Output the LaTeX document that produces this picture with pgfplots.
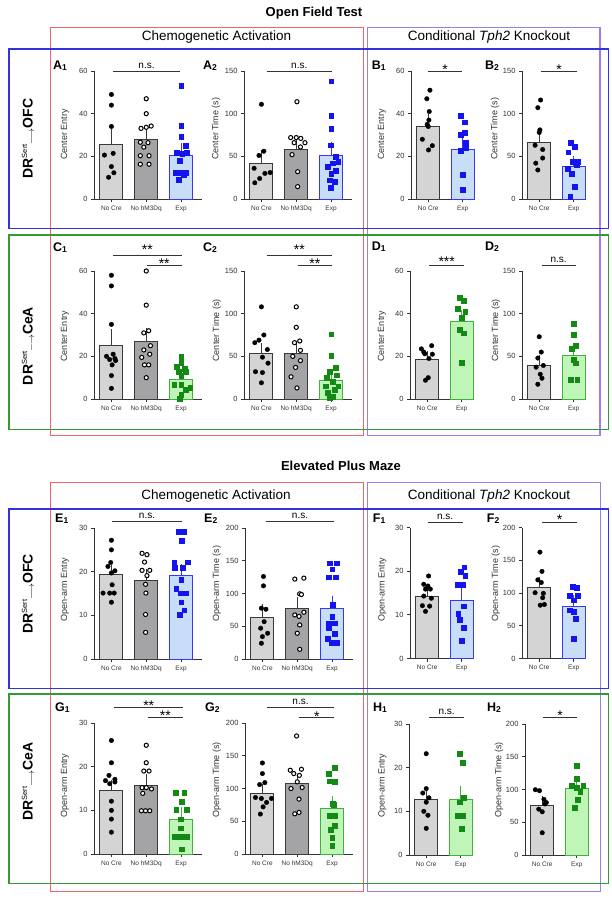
\documentclass[border=0pt]{standalone}
\usepackage{pgfplots}
\pgfplotsset{compat=1.18}
\usepackage{fontspec}
\setmainfont{Liberation Sans}
\definecolor{ncf}{HTML}{D4D4D4}
\definecolor{nhf}{HTML}{A4A4A6}
\definecolor{edg}{HTML}{3A3A3A}
\definecolor{bf}{HTML}{C8DDF7}
\definecolor{be}{HTML}{3838F0}
\definecolor{bp}{HTML}{1414F0}
\definecolor{gf}{HTML}{C0F5B8}
\definecolor{ge}{HTML}{40B040}
\definecolor{gp}{HTML}{138A13}
\definecolor{rbox}{HTML}{EE6666}
\definecolor{bbox}{HTML}{3333DD}
\definecolor{gbox}{HTML}{349A34}
\definecolor{pbox}{HTML}{A07CEE}
\definecolor{axk}{HTML}{333333}
\pgfplotsset{
 panel/.style={scale only axis, anchor=south west, axis lines*=left, ymin=0, clip=false,
   tick align=outside, major tick length=3pt,
   axis line style={line width=0.9pt, draw=axk}, tick style={line width=0.9pt, draw=axk},
   yticklabel style={font=\fontsize{7.5}{8}\selectfont, text=axk},
   xticklabel style={font=\fontsize{6.5}{7}\selectfont, text=axk},
   /pgf/number format/assume math mode=true, scaled y ticks=false},
 three/.style={panel, width=108pt, xmin=-0.5, xmax=2.6, xtick={0,1,2}, xticklabels={No Cre, No hM3Dq, Exp}},
 two/.style={panel, width=63pt, xmin=-0.5, xmax=1.33, xtick={0,1}, xticklabels={No Cre, Exp}},
 of/.style={height=128pt}, epm/.style={height=131pt},
 e60/.style={ymax=60, ytick={0,20,40,60}},
 e150/.style={ymax=150, ytick={0,50,100,150}},
 e30/.style={ymax=30, ytick={0,10,20,30}},
 e200/.style={ymax=200, ytick={0,50,100,150,200}},
 bb/.style 2 args={ybar, bar shift=0pt, bar width=23pt, line width=0.9pt, fill=#1, draw=#2,
   error bars/y dir=plus, error bars/y explicit,
   error bars/error bar style={line width=0.9pt, draw=#2, solid},
   error bars/error mark options={line width=0.9pt, draw=#2, mark size=4pt}},
 pk/.style={only marks, mark=*, mark size=2.3pt, mark options={fill=black, draw=black, line width=0.3pt}},
 pw/.style={only marks, mark=*, mark size=2.1pt, mark options={fill=white, draw=black, line width=1.0pt}},
 pb/.style={only marks, mark=square*, mark size=2.4pt, mark options={fill=bp, draw=bp, line width=0.3pt}},
 pg/.style={only marks, mark=square*, mark size=2.4pt, mark options={fill=gp, draw=gp, line width=0.3pt}},
}
\newcommand{\sigl}[3]{\draw[line width=0.9pt, color=axk] (#1,#3) -- (#2,#3);}
\newcommand{\ns}[2]{\node[anchor=base, inner sep=0pt, font=\fontsize{10}{10}\selectfont] at (#1,#2) {n.s.};}
\newcommand{\st}[3]{\node[anchor=base, inner sep=0pt, font=\fontsize{14}{14}\selectfont] at (#1,#2) {#3};}
\newcommand{\plab}[4]{\node[anchor=west, inner sep=0pt] at (#1,#2) {\fontsize{12.5}{13}\bfseries #3\fontsize{8.5}{9}\selectfont\raisebox{-0.8pt}{#4}};}
\newcommand{\ylab}[3]{\node[anchor=west, rotate=90, inner sep=0pt, font=\fontsize{9}{9}\selectfont, text=axk] at (#1,#2) {#3};}
\newcommand{\rowlab}[3]{\node[rotate=90, inner sep=0pt] at (#1,#2) {\fontsize{14}{14}\bfseries DR\fontsize{7.5}{8}\mdseries\raisebox{5.5pt}{Sert}{\fontsize{10}{10}\selectfont\raisebox{-1.5pt}{$\longrightarrow$}}\fontsize{14}{14}\bfseries #3};}
\begin{document}
\begin{tikzpicture}
\useasboundingbox (0pt,0pt) rectangle (611pt,-900pt);
\fill[white] (0pt,0pt) rectangle (611pt,-900pt);
\begin{scope}[x=1pt,y=-1pt]
% boxes
\draw[rbox, line width=1.2pt] (50.7,27.3) rectangle (363.3,435.7);
\draw[pbox, line width=1.2pt] (367.7,27.3) rectangle (600,435.7);
\draw[bbox, line width=1.2pt] (9,49) rectangle (608.3,228.3);
\draw[gbox, line width=1.2pt] (9,235) rectangle (608.3,429.5);
\draw[rbox, line width=1.2pt] (50.7,482.7) rectangle (363.3,891.7);
\draw[pbox, line width=1.2pt] (367.5,482.7) rectangle (600.5,891.7);
\draw[bbox, line width=1.2pt] (9,509) rectangle (608.5,688.3);
\draw[gbox, line width=1.2pt] (9,694) rectangle (608.3,883.3);
% titles
\node[font=\fontsize{13}{13}\bfseries] at (314,13) {Open Field Test};
\node[font=\fontsize{13}{13}\bfseries] at (341,466) {Elevated Plus Maze};
\node[font=\fontsize{13.5}{14}\selectfont] at (216.5,37) {Chemogenetic Activation};
\node[font=\fontsize{13.5}{14}\selectfont] at (489,37) {Conditional \textit{Tph2} Knockout};
\node[font=\fontsize{13.5}{14}\selectfont] at (216,496) {Chemogenetic Activation};
\node[font=\fontsize{13.5}{14}\selectfont] at (489,496) {Conditional \textit{Tph2} Knockout};
% row labels
\rowlab{28}{138.5}{OFC}
\rowlab{28}{346}{CeA}
\rowlab{28}{594}{OFC}
\rowlab{28}{781.5}{CeA}
% panel labels
\plab{53}{66}{A}{1} \plab{203}{66}{A}{2} \plab{371.7}{66}{B}{1} \plab{485}{66}{B}{2}
\plab{53}{247.5}{C}{1} \plab{203}{247.5}{C}{2} \plab{371.7}{247}{D}{1} \plab{485}{247}{D}{2}
\plab{55}{519}{E}{1} \plab{204}{519}{E}{2} \plab{372.7}{519}{F}{1} \plab{486.7}{519}{F}{2}
\plab{55}{708}{G}{1} \plab{205}{708}{G}{2} \plab{373}{708}{H}{1} \plab{487}{708}{H}{2}
% y labels
\ylab{65}{160}{Center Entry} \ylab{216}{160}{Center Time (s)} \ylab{382}{160}{Center Entry} \ylab{495}{160}{Center Time (s)}
\ylab{65}{361.7}{Center Entry} \ylab{216.7}{361.7}{Center Time (s)} \ylab{382}{361.7}{Center Entry} \ylab{495.7}{361.7}{Center Time (s)}
\ylab{65}{621.7}{Open-arm Entry} \ylab{216.7}{621.7}{Open-arm Time (s)} \ylab{382.3}{621.7}{Open-arm Entry} \ylab{495.7}{621.7}{Open-arm Time (s)}
\ylab{65}{818}{Open-arm Entry} \ylab{216.7}{818}{Open-arm Time (s)} \ylab{382.3}{818}{Open-arm Entry} \ylab{499}{818}{Open-arm Time (s)}
% significance
\sigl{113}{180}{71.7} \ns{146.5}{68.3}
\sigl{266.7}{332}{71.7} \ns{299.3}{68.3}
\sigl{427.7}{462}{71.7} \st{445}{74.6}{*}
\sigl{541}{577}{71.7} \st{559}{74.6}{*}
\sigl{113}{181.7}{255} \st{147.3}{254.8}{**} \sigl{146.7}{181.7}{265.7} \st{164.2}{268.1}{**}
\sigl{266.7}{332}{255} \st{299.3}{254.8}{**} \sigl{297.7}{332}{265.7} \st{314.8}{268.1}{**}
\sigl{429.3}{464}{265} \st{446.7}{266.6}{***}
\sigl{541.7}{575.7}{265} \ns{558.7}{262.3}
\sigl{112.3}{181.7}{521.7} \ns{147}{518.3}
\sigl{265.7}{334.3}{521.7} \ns{300}{518.3}
\sigl{427.7}{462.7}{522.3} \ns{445.2}{519}
\sigl{542.3}{576.7}{522.3} \st{559.5}{524.6}{*}
\sigl{114.3}{183}{707.7} \st{148.7}{710.6}{**} \sigl{147.7}{183}{717.7} \st{165.3}{720.6}{**}
\sigl{266.7}{334.3}{707.7} \ns{300.5}{704.3} \sigl{299.3}{334.3}{717.7} \st{316.8}{721.8}{*}
\sigl{429}{464.3}{717.3} \ns{446.7}{714.3}
\sigl{542.7}{577.3}{717.3} \st{560}{720.1}{*}
\end{scope}

% ---------- A1
\begin{axis}[three, of, e60, at={(94pt,-199pt)}]
\addplot[bb={ncf}{edg}] coordinates {(0,25.7) +- (0,5.1)};
\addplot[bb={nhf}{edg}] coordinates {(1,28.0) +- (0,3.3)};
\addplot[bb={bf}{be}] coordinates {(2,20.6) +- (0,3.6)};
\addplot[pk] coordinates {(0,49) (0,44) (0,34) (0.05,21.4) (-0.2,20.6) (0,15.2) (0.07,12.3) (-0.08,10.2)};
\addplot[pw] coordinates {(1,47) (1,40) (0.85,33.1) (1,33.6) (1.14,34.2) (0.83,26.6) (1.05,26.4) (0.93,24.3) (0.83,20.3) (1.08,20.3) (0.83,16.3) (1.08,16.3)};
\addplot[pb] coordinates {(2,53) (2,34.2) (2,29.1) (2.12,25) (1.87,21.8) (2.03,21.3) (2.15,21.6) (1.95,18) (1.85,12.4) (2,12.3) (2.14,12.3) (2.07,11.5) (1.93,9)};
\end{axis}
% ---------- A2
\begin{axis}[three, of, e150, at={(244pt,-199pt)}]
\addplot[bb={ncf}{edg}] coordinates {(0,41.8) +- (0,10.9)};
\addplot[bb={nhf}{edg}] coordinates {(1,58.2) +- (0,7)};
\addplot[bb={bf}{be}] coordinates {(2,50.8) +- (0,11.7)};
\addplot[pk] coordinates {(0,111) (0.07,56) (-0.07,51) (-0.21,36) (0.25,31) (0.1,30) (-0.05,24) (-0.19,19)};
\addplot[pw] coordinates {(1.02,114) (0.84,72) (1,72) (1.13,71) (1.25,66) (0.94,66) (1.12,61) (0.88,52) (1.04,32) (1.04,14.5)};
\addplot[pb] coordinates {(2,138) (2,98) (2,82) (1.98,63) (2.12,50) (2.2,44) (2.05,42) (1.9,38) (2.12,33) (2,30) (1.95,22) (2.1,20) (1.98,13)};
\end{axis}
% ---------- B1
\begin{axis}[two, of, e60, at={(411pt,-199pt)}]
\addplot[bb={ncf}{edg}] coordinates {(0,34.2) +- (0,3.6)};
\addplot[bb={bf}{be}] coordinates {(1,23.4) +- (0,3.8)};
\addplot[pk] coordinates {(0.05,51) (-0.04,47) (0.03,41) (0.02,37) (-0.03,35) (0,34) (-0.17,28) (0.12,25) (0.01,23)};
\addplot[pb] coordinates {(0.94,39) (1.06,36) (1.06,31) (0.94,30) (1.09,26.6) (1.09,23.8) (0.94,22.7) (1,11.3) (1,4.2)};
\end{axis}
% ---------- B2
\begin{axis}[two, of, e150, at={(522pt,-199pt)}]
\addplot[bb={ncf}{edg}] coordinates {(0,66.4) +- (0,10.6)};
\addplot[bb={bf}{be}] coordinates {(1,37.9) +- (0,7.8)};
\addplot[pk] coordinates {(0.04,116) (-0.04,107) (0.02,81) (0,78) (-0.12,63) (0.1,58) (0.1,48) (-0.1,42) (-0.04,34)};
\addplot[pb] coordinates {(0.92,66) (1.02,61) (0.84,55) (1.12,44) (0.98,44) (1.08,40) (0.83,36) (0.95,30) (1.02,14.5) (0.9,3)};
\end{axis}
% ---------- C1
\begin{axis}[three, of, e60, at={(94pt,-399pt)}]
\addplot[bb={ncf}{edg}] coordinates {(0,25.1) +- (0,5.8)};
\addplot[bb={nhf}{edg}] coordinates {(1,27) +- (0,4.4)};
\addplot[bb={gf}{ge}] coordinates {(2,9) +- (0,2.8)};
\addplot[pk] coordinates {(0,58) (0,53) (0,35) (-0.14,20) (0.05,21) (0.1,19) (-0.05,18.5) (0.12,18) (0.02,16) (0,11) (0,5)};
\addplot[pw] coordinates {(1,60) (1,44) (1.07,32) (0.93,31) (1.12,25) (0.93,23) (1.1,21) (0.87,19.5) (0.95,16) (1.07,16) (1,10)};
\addplot[pg] coordinates {(2,20) (2,17) (1.88,15) (2.1,14.4) (1.92,13) (2.14,13) (2,11) (1.8,6.6) (2,6.9) (2.26,5.5) (2.13,4.2) (2,1.9) (1.95,0.3)};
\end{axis}
% ---------- C2
\begin{axis}[three, of, e150, at={(244pt,-399pt)}]
\addplot[bb={ncf}{edg}] coordinates {(0,53) +- (0,8.2)};
\addplot[bb={nhf}{edg}] coordinates {(1,53.8) +- (0,9.8)};
\addplot[bb={gf}{ge}] coordinates {(2,21.6) +- (0,8.6)};
\addplot[pk] coordinates {(0,108) (0.07,75) (-0.07,69) (-0.19,66) (0.17,58) (0.03,49) (0.19,42) (0.03,31) (-0.17,32) (0,19)};
\addplot[pw] coordinates {(1,108) (1,84) (1.1,68) (0.95,66) (1.12,57) (0.9,50) (1.12,45) (0.98,37) (0.85,26) (1.02,13)};
\addplot[pg] coordinates {(2,76) (2,51) (2.12,37) (1.95,32) (2.15,28) (1.88,25) (2.05,20) (1.85,15) (2.2,15) (2.1,11) (1.9,7) (2.05,3) (1.95,1)};
\end{axis}
% ---------- D1
\begin{axis}[two, of, e60, at={(410pt,-399pt)}]
\addplot[bb={ncf}{edg}] coordinates {(0,18.5) +- (0,1.9)};
\addplot[bb={gf}{ge}] coordinates {(1,36.4) +- (0,3.6)};
\addplot[pk] coordinates {(0.13,25) (-0.17,23.5) (-0.1,22) (-0.07,21.2) (0.15,21) (0.05,19) (0.03,10) (-0.05,8.8)};
\addplot[pg] coordinates {(0.95,47.4) (1.06,46.2) (0.88,42.4) (1.1,41.1) (1,38.3) (0.95,32.5) (1.06,30.9) (1,17.1)};
\end{axis}
% ---------- D2
\begin{axis}[two, of, e150, at={(522pt,-399pt)}]
\addplot[bb={ncf}{edg}] coordinates {(0,38.9) +- (0,8)};
\addplot[bb={gf}{ge}] coordinates {(1,51) +- (0,10)};
\addplot[pk] coordinates {(0,73) (0.06,55) (-0.04,48) (-0.09,37.3) (0.12,39.3) (0.03,29) (0.08,24.3) (-0.04,17.3)};
\addplot[pg] coordinates {(1,88) (1,75.4) (1.06,62.8) (0.94,58.9) (0.99,45.9) (1.06,42) (0.92,22.4) (1.1,22.4)};
\end{axis}
% ---------- E1
\begin{axis}[three, epm, e30, at={(94pt,-659pt)}]
\addplot[bb={ncf}{edg}] coordinates {(0,19.3) +- (0,1.3)};
\addplot[bb={nhf}{edg}] coordinates {(1,18.1) +- (0,1.7)};
\addplot[bb={bf}{be}] coordinates {(2,19.1) +- (0,1.7)};
\addplot[pk] coordinates {(0,27.2) (0,25) (-0.02,22.1) (-0.1,21.2) (0.1,20.2) (0,19.7) (0.02,17) (-0.24,15.1) (-0.05,15.1) (0.08,15.1) (0,13)};
\addplot[pw] coordinates {(0.88,24.2) (1.02,23.9) (0.95,22.2) (0.88,20.3) (1.1,20.3) (1.02,19.1) (0.98,17.1) (0.99,15.1) (0.98,10.2) (0.98,6.1)};
\addplot[pb] coordinates {(1.94,29.2) (2.09,29.2) (2.01,27.1) (1.8,22.2) (2.18,22.2) (1.82,21) (2.04,21) (2,18.1) (1.86,16.2) (2.12,15.1) (1.98,15.1) (2,13) (2.09,11.2) (1.95,10.1)};
\end{axis}
% ---------- E2
\begin{axis}[three, epm, e200, at={(245pt,-659pt)}]
\addplot[bb={ncf}{edg}] coordinates {(0,63.3) +- (0,14.3)};
\addplot[bb={nhf}{edg}] coordinates {(1,76.5) +- (0,12.3)};
\addplot[bb={bf}{be}] coordinates {(2,76.5) +- (0,13.8)};
\addplot[pk] coordinates {(0.03,126) (0.03,111.7) (-0.03,77.6) (0.1,76) (0.05,57) (-0.05,47) (0.15,39.3) (0,34.2) (-0.03,24)};
\addplot[pw] coordinates {(0.93,122) (1.19,123.5) (1.07,99.5) (1.12,98.5) (0.93,67.3) (1.19,71.4) (1.05,65) (1.07,52) (1,39.3) (1.07,14.8)};
\addplot[pb] coordinates {(1.94,146.4) (2.14,146.4) (2,137.2) (1.9,125) (2.1,125) (2.02,82.7) (2,64.8) (1.9,53.6) (2.07,54.6) (1.9,47) (2.07,38.3) (1.87,31.6) (1.97,25.5) (2.14,25.5)};
\end{axis}
% ---------- F1
\begin{axis}[two, epm, e30, at={(410pt,-658.5pt)}]
\addplot[bb={ncf}{edg}] coordinates {(0,14.1) +- (0,1.1)};
\addplot[bb={bf}{be}] coordinates {(1,13.4) +- (0,2.1)};
\addplot[pk] coordinates {(0.04,18.9) (-0.1,17) (0.02,16.6) (-0.05,15.9) (0.09,15.9) (-0.1,14.3) (0.12,13.8) (-0.14,12.1) (0.07,12) (-0.05,10.8)};
\addplot[pb] coordinates {(1.07,20.9) (0.96,19.9) (1.1,18.9) (0.87,17) (1.03,17) (1.06,12) (0.9,10.2) (0.94,8.9) (1.05,7) (1.01,4.1)};
\end{axis}
% ---------- F2
\begin{axis}[two, epm, e200, at={(522pt,-658.5pt)}]
\addplot[bb={ncf}{edg}] coordinates {(0,108.2) +- (0,10.4)};
\addplot[bb={bf}{be}] coordinates {(1,79.9) +- (0,10.3)};
\addplot[pk] coordinates {(0.02,162.4) (0.08,133) (-0.04,120.1) (0.06,116) (0.12,99.5) (-0.12,100.5) (0.1,92.8) (0.03,81.4) (0.15,82.5)};
\addplot[pb] coordinates {(0.96,109.8) (1.08,107.7) (1.12,96.4) (0.88,95.4) (1,89.2) (0.88,73.7) (1,71.1) (1.06,60.3) (1,29.9)};
\end{axis}
% ---------- G1
\begin{axis}[three, epm, e30, at={(94pt,-854pt)}]
\addplot[bb={ncf}{edg}] coordinates {(0,14.5) +- (0,1.6)};
\addplot[bb={nhf}{edg}] coordinates {(1,15.6) +- (0,1.7)};
\addplot[bb={gf}{ge}] coordinates {(2,7.9) +- (0,1.9)};
\addplot[pk] coordinates {(0,26) (0,20.9) (-0.07,18) (0.1,17.1) (-0.17,16.8) (-0.05,16.1) (0.1,16.5) (0,12.1) (0,10) (0,8) (0,5)};
\addplot[pw] coordinates {(1,24.9) (1,20.9) (0.93,19) (1.08,19) (0.88,15.2) (1,15.2) (1.15,14.9) (0.9,13.9) (0.86,9.9) (0.98,9.9) (1.1,9.9)};
\addplot[pg] coordinates {(1.84,14) (2.09,14) (2.01,12) (1.86,10.1) (2.16,10.1) (1.99,8) (1.99,5.9) (1.82,4) (1.99,4) (2.16,4) (2.01,1.1)};
\end{axis}
% ---------- G2
\begin{axis}[three, epm, e200, at={(245pt,-854pt)}]
\addplot[bb={ncf}{edg}] coordinates {(0,92.4) +- (0,8.6)};
\addplot[bb={nhf}{edg}] coordinates {(1,107.1) +- (0,8.1)};
\addplot[bb={gf}{ge}] coordinates {(2,69.5) +- (0,13.2)};
\addplot[pk] coordinates {(0,139) (0,122.8) (-0.08,106) (0.07,109) (-0.2,86.3) (-0.03,84.8) (0.26,84.8) (0.12,78.7) (0.02,72) (-0.06,61)};
\addplot[pw] coordinates {(0.98,180.2) (0.8,127.9) (1.12,129.4) (0.9,122.8) (1.06,120) (1,110.2) (0.82,100) (1.14,101.5) (1.05,83.8) (0.93,61.4) (1.05,63.5)};
\addplot[pg] coordinates {(2.07,132) (1.9,122.8) (1.92,111.2) (2.07,110.2) (2.02,77.2) (2.05,75) (1.92,58.4) (2.07,58.4) (2.07,43.1) (1.95,37.6) (2,24.9) (2,12.7)};
\end{axis}
% ---------- H1
\begin{axis}[two, epm, e30, at={(409pt,-855pt)}]
\addplot[bb={ncf}{edg}] coordinates {(0,12.7) +- (0,1.7)};
\addplot[bb={gf}{ge}] coordinates {(1,12.8) +- (0,2.2)};
\addplot[pk] coordinates {(0,23.2) (0,15.2) (-0.1,14.2) (0.08,13.1) (0,12.1) (-0.07,10) (0.05,9.1) (0,6.1)};
\addplot[pg] coordinates {(0.96,23.2) (1.06,21.1) (1.08,13.1) (0.96,12.1) (0.9,9.1) (1.06,9.1) (1.02,6.1)};
\end{axis}
% ---------- H2
\begin{axis}[two, epm, e200, at={(525pt,-855pt)}]
\addplot[bb={ncf}{edg}] coordinates {(0,75.4) +- (0,8)};
\addplot[bb={gf}{ge}] coordinates {(1,101.3) +- (0,8)};
\addplot[pk] coordinates {(-0.2,99.7) (-0.08,98.2) (0.05,85) (0.12,80) (0.08,78) (-0.1,70) (0,66) (0,34)};
\addplot[pg] coordinates {(1,136.7) (1,116.5) (0.85,105.3) (1,102.3) (1.19,105.3) (1.1,97.2) (1.04,85.1) (0.95,71.9)};
\end{axis}
\end{tikzpicture}
\end{document}
